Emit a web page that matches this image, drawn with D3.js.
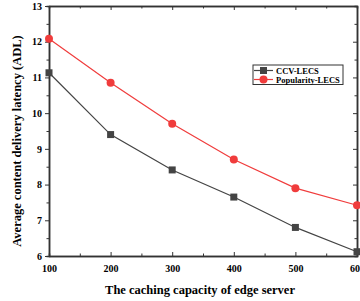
<!DOCTYPE html>
<html lang="en">
<head>
  <meta charset="UTF-8">
  <title>Average content delivery latency</title>
  <style>
    body { margin: 0; background: #fff; }
    text { font-family: "Liberation Serif", "Times New Roman", serif; font-weight: bold; }
  </style>
</head>
<body>
<div id="chart"></div>
<script src="https://d3js.org/d3.v7.min.js"></script>
<script>
  // data
  var capacities = [100, 200, 300, 400, 500, 600];
  var ccvLecs = [11.13, 9.4, 8.41, 7.65, 6.8, 6.12];
  var popularityLecs = [12.08, 10.85, 9.7, 8.7, 7.9, 7.42];
  var xTicks = [100, 200, 300, 400, 500, 600];
  var yTicks = [6, 7, 8, 9, 10, 11, 12, 13];

  var w = 360, h = 301;
  var margin = {top: 6, right: 3, bottom: 45, left: 49};
  var innerWidth = w - margin.left - margin.right;
  var innerHeight = h - margin.top - margin.bottom;

  var svg = d3.select("#chart").append("svg")
      .attr("width", w)
      .attr("height", h);

  var plot = svg.append("g")
      .attr("transform", `translate(${margin.left},${margin.top})`);

  var x = d3.scaleLinear().domain([100, 600]).range([0, innerWidth]);
  var y = d3.scaleLinear().domain([6, 13]).range([innerHeight, 0]);

  var axisColor = "#333";
  var fmt = d3.format("d");

  // minor ticks
  var xMinor = d3.range(150, 600, 100);
  var yMinor = d3.range(6.5, 13, 1);

  // bottom axis (ticks inward)
  var bottomAxis = plot.append("g")
      .attr("transform", `translate(0,${innerHeight})`)
      .call(d3.axisBottom(x).tickValues(xTicks).tickFormat(fmt).tickSizeInner(-4).tickSizeOuter(0).tickPadding(9));
  bottomAxis.append("g").call(d3.axisBottom(x).tickValues(xMinor).tickSize(-2.5).tickFormat(""));

  // left axis (ticks outward)
  var leftAxis = plot.append("g")
      .call(d3.axisLeft(y).tickValues(yTicks).tickFormat(fmt).tickSizeInner(4).tickSizeOuter(0).tickPadding(3));
  leftAxis.append("g").call(d3.axisLeft(y).tickValues(yMinor).tickSize(2.5).tickFormat(""));

  // top and right mirror axes (ticks inward, no labels)
  var topAxis = plot.append("g")
      .call(d3.axisTop(x).tickValues(xTicks).tickSizeInner(-4).tickSizeOuter(0).tickFormat(""));
  topAxis.append("g").call(d3.axisTop(x).tickValues(xMinor).tickSize(-2.5).tickFormat(""));
  var rightAxis = plot.append("g")
      .attr("transform", `translate(${innerWidth},0)`)
      .call(d3.axisRight(y).tickValues(yTicks).tickSizeInner(-4).tickSizeOuter(0).tickFormat(""));
  rightAxis.append("g").call(d3.axisRight(y).tickValues(yMinor).tickSize(-2.5).tickFormat(""));

  plot.selectAll(".domain").attr("stroke", axisColor).attr("stroke-width", 1.5);
  plot.selectAll(".tick line").attr("stroke", axisColor).attr("stroke-width", 1);
  plot.selectAll(".tick text")
      .attr("fill", "#000")
      .style("font-size", "10px")
      .style("font-family", "'Liberation Serif', serif")
      .style("font-weight", "bold");

  // series
  var series = [
    {name: "CCV-LECS", values: ccvLecs, color: "#444444", shape: "square"},
    {name: "Popularity-LECS", values: popularityLecs, color: "#f03c3c", shape: "circle"}
  ];

  var line = d3.line()
      .x((d, i) => x(capacities[i]))
      .y(d => y(d));

  function drawMarker(g, shape, color, cx, cy) {
    if (shape === "square") {
      g.append("rect")
          .attr("x", cx - 3.5).attr("y", cy - 3.5)
          .attr("width", 7).attr("height", 7)
          .attr("fill", color);
    } else {
      g.append("circle")
          .attr("cx", cx).attr("cy", cy).attr("r", 4)
          .attr("fill", color);
    }
  }

  series.forEach(function(s) {
    plot.append("path")
        .datum(s.values)
        .attr("fill", "none")
        .attr("stroke", s.color)
        .attr("stroke-width", 1.2)
        .attr("d", line);
    var mg = plot.append("g");
    s.values.forEach(function(v, i) {
      drawMarker(mg, s.shape, s.color, x(capacities[i]), y(v));
    });
  });

  // legend
  var legend = svg.append("g").attr("transform", "translate(253,65)");
  legend.append("rect")
      .attr("width", 90).attr("height", 19.5)
      .attr("fill", "#fff")
      .attr("stroke", axisColor)
      .attr("stroke-width", 1);
  series.forEach(function(s, i) {
    var yy = 5.5 + i * 9;
    legend.append("line")
        .attr("x1", 1).attr("x2", 20)
        .attr("y1", yy).attr("y2", yy)
        .attr("stroke", s.color).attr("stroke-width", 1.2);
    drawMarker(legend, s.shape, s.color, 10.5, yy);
    legend.append("text")
        .attr("x", 23).attr("y", yy + 3)
        .style("font-size", "8.5px")
        .text(s.name);
  });

  // axis titles
  svg.append("text")
      .attr("x", margin.left + innerWidth / 2 - 3)
      .attr("y", 294)
      .attr("text-anchor", "middle")
      .style("font-size", "12.5px")
      .text("The caching capacity of edge server");

  svg.append("text")
      .attr("transform", `translate(21,${margin.top + innerHeight / 2 + 10}) rotate(-90)`)
      .attr("text-anchor", "middle")
      .style("font-size", "12.5px")
      .text("Average content delivery latency (ADL)");
</script>
</body>
</html>
